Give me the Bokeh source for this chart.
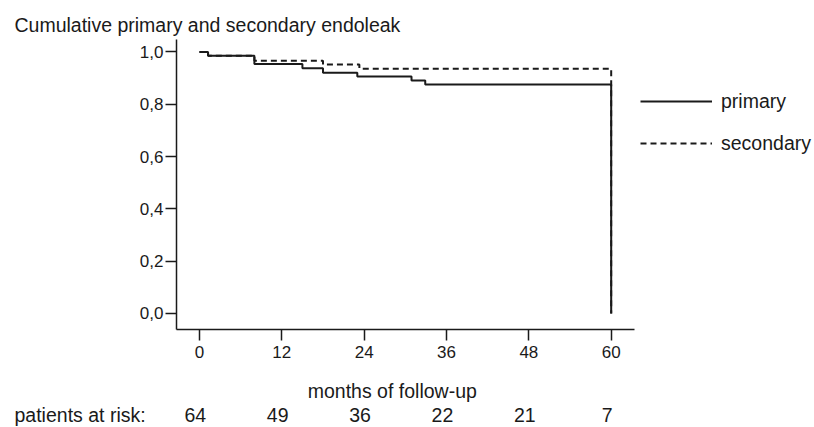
import numpy as np
from bokeh.plotting import figure
from bokeh.models import Range1d, FixedTicker, Label, Legend, LegendItem
from bokeh.embed import file_html
from bokeh.resources import INLINE

# ---- data ----
primary_t = [0, 1.25, 8.0, 15.0, 18.0, 23.0, 30.9, 32.9, 60]
primary_s = [1.0, 0.986, 0.954, 0.938, 0.921, 0.906, 0.891, 0.876, 0.0]
secondary_t = [0, 1.25, 8.0, 18.0, 23.3, 60]
secondary_s = [1.0, 0.986, 0.967, 0.952, 0.936, 0.0]
x_ticks = [0, 12, 24, 36, 48, 60]
y_ticks = [0.0, 0.2, 0.4, 0.6, 0.8, 1.0]
at_risk = [64, 49, 36, 22, 21, 7]

FONT = "Liberation Sans"
INK = "#1a1a1a"

# axis extents (data units)
X_AX = (-3.35, 63.4)
Y_AX = (-0.0612, 1.0478)


def stairs(t, s):
    t = np.asarray(t, float)
    s = np.asarray(s, float)
    xs = np.repeat(t, 2)[1:]
    ys = np.repeat(s, 2)[:-1]
    return xs, ys


p = figure(width=814, height=427, output_backend="svg", toolbar_location=None,
           x_range=Range1d(-29.0, 89.63), y_range=Range1d(-0.43595, 1.19694),
           min_border=0)
p.outline_line_color = None
p.xgrid.visible = False
p.ygrid.visible = False
p.background_fill_color = "white"
p.border_fill_color = "white"

sx, sy = stairs(secondary_t, secondary_s)
r_sec = p.line(sx, sy, line_color=INK, line_width=2, line_dash="6 4")
px, py = stairs(primary_t, primary_s)
r_pri = p.line(px, py, line_color=INK, line_width=2)

xa, ya = p.xaxis[0], p.yaxis[0]
xa.fixed_location = Y_AX[0]
xa.bounds = X_AX
ya.fixed_location = X_AX[0]
ya.bounds = Y_AX
for ax in (xa, ya):
    ax.axis_line_color = INK
    ax.axis_line_width = 1.5
    ax.major_tick_line_color = INK
    ax.major_tick_line_width = 1.5
    ax.major_tick_in = 0
    ax.major_tick_out = 11
    ax.minor_tick_line_color = None
    ax.major_label_text_font = FONT
    ax.major_label_text_font_size = "17px"
    ax.major_label_text_color = INK

xa.ticker = FixedTicker(ticks=x_ticks)
xa.major_label_standoff = 5
ya.ticker = FixedTicker(ticks=y_ticks)
ya.major_label_overrides = {t: f"{t:.1f}".replace(".", ",") for t in y_ticks}
ya.major_label_standoff = 2

TXT = dict(text_font=FONT, text_font_size="19.5px", text_color=INK,
           text_baseline="alphabetic")
# title
p.add_layout(Label(x=-26.96, y=1.105, text="Cumulative primary and secondary endoleak", **TXT))
# x axis title
p.add_layout(Label(x=28.1, y=-0.298, text="months of follow-up", text_align="center", **TXT))
# at-risk row
ROW_Y = -0.39
p.add_layout(Label(x=-26.96, y=ROW_Y, text="patients at risk:", **TXT))
for t, n in zip(x_ticks, at_risk):
    p.add_layout(Label(x=t - 0.6, y=ROW_Y, text=str(n), text_align="center", **TXT))

legend = Legend(items=[LegendItem(label="primary", renderers=[r_pri]),
                       LegendItem(label="secondary", renderers=[r_sec])],
                location=(640, 272), orientation="vertical",
                glyph_width=72, glyph_height=24, label_height=24,
                label_standoff=9, spacing=18, padding=0, margin=0,
                label_text_font=FONT, label_text_font_size="19.5px",
                label_text_color=INK,
                border_line_color=None, background_fill_alpha=0)
p.add_layout(legend, "center")

open("out.html", "w").write(file_html(p, INLINE))
